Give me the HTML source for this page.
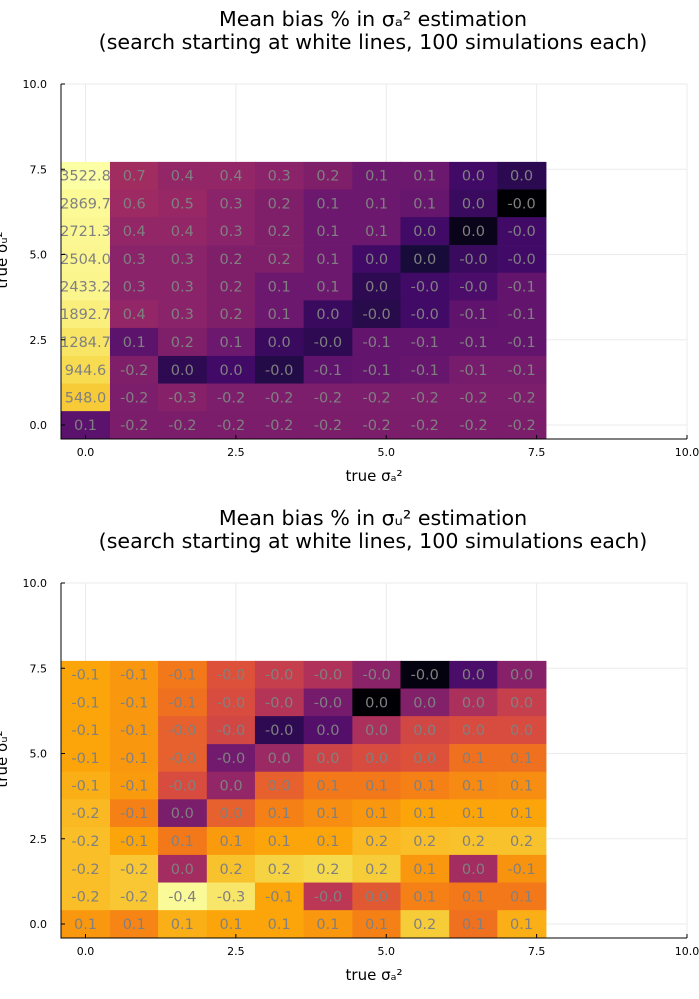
<!DOCTYPE html>
<html><head><meta charset="utf-8"><style>
html,body{margin:0;padding:0;background:#fff;}
svg{display:block;font-family:"DejaVu Sans","Liberation Sans",sans-serif;}
</style></head><body>
<svg id="c" width="699" height="999" viewBox="0 0 699 999" xmlns="http://www.w3.org/2000/svg"></svg>
<script>
// ---- data ----
const xCats = [0, 0.81, 1.61, 2.42, 3.22, 4.03, 4.84, 5.64, 6.45, 7.25];
const yCats = [7.31, 6.5, 5.69, 4.87, 4.06, 3.25, 2.44, 1.62, 0.81, 0];
const xTicks = [0, 2.5, 5, 7.5, 10];
const yTicks = [0, 2.5, 5, 7.5, 10];
const tickLabels = ["0.0", "2.5", "5.0", "7.5", "10.0"];
// rows listed top (largest y) to bottom
const biasA = [
 [3522.8, 0.7, 0.4, 0.4, 0.3, 0.2, 0.1, 0.1, 0.02, 0.0096],
 [2869.7, 0.6, 0.5, 0.3, 0.2, 0.1, 0.1, 0.08, 0.015, -0.001],
 [2721.3, 0.4, 0.4, 0.3, 0.2, 0.1, 0.1, 0.02, 0.0018, -0.02],
 [2504.0, 0.3, 0.3, 0.2, 0.2, 0.1, 0.02, 0.0045, -0.015, -0.02],
 [2433.2, 0.3, 0.3, 0.2, 0.1, 0.1, 0.01, -0.02, -0.03, -0.07],
 [1892.7, 0.4, 0.3, 0.2, 0.1, 0.015, -0.008, -0.02, -0.06, -0.07],
 [1284.7, 0.055, 0.2, 0.1, 0.015, -0.01, -0.07, -0.07, -0.07, -0.07],
 [944.6, -0.2, 0.01, 0.02, -0.007, -0.06, -0.07, -0.08, -0.15, -0.15],
 [548.0, -0.18, -0.26, -0.18, -0.18, -0.18, -0.18, -0.18, -0.18, -0.18],
 [0.051, -0.17, -0.17, -0.17, -0.17, -0.17, -0.17, -0.17, -0.17, -0.17]
];
const biasU = [
 [-0.125, -0.104, -0.069, -0.0375, -0.0245, -0.0171, -0.0099, -0.00113, 0.0038, 0.0093],
 [-0.125, -0.104, -0.061, -0.0333, -0.0181, -0.0073, 0.001, 0.0088, 0.0161, 0.0245],
 [-0.125, -0.104, -0.0478, -0.0295, -0.0025, 0.0043, 0.0161, 0.0295, 0.0333, 0.0333],
 [-0.125, -0.104, -0.0478, -0.0069, 0.0126, 0.0277, 0.0333, 0.0375, 0.061, 0.061],
 [-0.141, -0.11, -0.0333, 0.0112, 0.048, 0.069, 0.069, 0.077, 0.087, 0.092],
 [-0.159, -0.077, 0.0078, 0.0478, 0.077, 0.092, 0.104, 0.125, 0.125, 0.125],
 [-0.169, -0.125, 0.069, 0.11, 0.125, 0.125, 0.159, 0.169, 0.179, 0.179],
 [-0.169, -0.19, 0.0142, 0.179, 0.22, 0.24, 0.202, 0.104, 0.0142, -0.098],
 [-0.169, -0.19, -0.39, -0.29, -0.125, -0.0205, 0.0424, 0.077, 0.069, 0.069],
 [0.104, 0.082, 0.141, 0.125, 0.125, 0.104, 0.077, 0.202, 0.061, 0.141]
];
// ---- rendering ----
const NS = "http://www.w3.org/2000/svg";
const svg = document.getElementById("c");
const inferno = ["#000004","#160b39","#420a68","#6a176e","#932667","#bc3754","#dd513a","#f37819","#fca50a","#f6d746","#fcffa4"];
function hex(h){return [1,3,5].map(i=>parseInt(h.substr(i,2),16));}
function cmap(t){t=Math.max(0,Math.min(1,t));const s=t*10,i=Math.min(9,Math.floor(s)),f=s-i;const a=hex(inferno[i]),b=hex(inferno[i+1]);return "rgb("+a.map((v,k)=>Math.round(v+(b[k]-v)*f)).join(",")+")";}
function mk(tag,attrs,parent){const e=document.createElementNS(NS,tag);for(const k in attrs)e.setAttribute(k,attrs[k]);(parent||svg).appendChild(e);return e;}

function panel(off, data, title1, title2, lo, hi, key){
  const g = mk("g",{});
  
  
  const X = v => 85.5 + v*60.15;
  const Y = v => off + 425 - v*34.1;
  const left=61, right=687, top=Y(10), bottom=off+439;
  xTicks.forEach((t,i)=>{const l=mk("line",{x1:X(t),x2:X(t),y1:top,y2:bottom,stroke:"#ebebeb","stroke-width":1},g);
    
    });
  yTicks.forEach((t,i)=>{const l=mk("line",{x1:left,x2:right,y1:Y(t),y2:Y(t),stroke:"#ebebeb","stroke-width":1},g);
    
    });
  const cw = 0.806*60.15, ch = 0.812*34.1;
  data.forEach((row,r)=>row.forEach((v,c)=>{
    const t = (Math.log10(Math.max(Math.abs(v),1e-6)) - lo)/(hi-lo);
    const cx = X(xCats[c]), cy = Y(yCats[r]);
    const rect = mk("rect",{x:cx-cw/2,y:cy-ch/2,width:cw+0.6,height:ch+0.6,fill:cmap(t)},g);
    
    
    const tx = mk("text",{x:cx,y:cy+5,"text-anchor":"middle","font-size":14.5,fill:"#808080"},g);
    tx.textContent = v.toFixed(1);
    
    
  }));
  const ax = mk("path",{d:`M${left} ${top}V${bottom}H${right}`,stroke:"#000",fill:"none","stroke-width":1},g);
  
  
  xTicks.forEach((t,i)=>{
    mk("line",{x1:X(t),x2:X(t),y1:bottom,y2:bottom-4,stroke:"#000"},g);
    const tx = mk("text",{x:X(t),y:bottom+17,"text-anchor":"middle","font-size":11,fill:"#000"},g);
    tx.textContent = tickLabels[i];
    
    
  });
  yTicks.forEach((t,i)=>{
    mk("line",{x1:left,x2:left+4,y1:Y(t),y2:Y(t),stroke:"#000"},g);
    const tx = mk("text",{x:47,y:Y(t)+4,"text-anchor":"end","font-size":11,fill:"#000"},g);
    tx.textContent = tickLabels[i];
    
    
  });
  const xl = mk("text",{x:374,y:off+481,"text-anchor":"middle","font-size":15,fill:"#000"},g);
  xl.textContent = "true σₐ²";
  
  
  const yl = mk("text",{x:0,y:0,"text-anchor":"middle","font-size":15,fill:"#000",transform:`translate(7,${off+260}) rotate(-90)`},g);
  yl.textContent = "true σᵤ²";
  
  
  const t1 = mk("text",{x:373,y:off+26,"text-anchor":"middle","font-size":20.6,fill:"#000"},g);
  t1.textContent = title1;
  
  
  const t2 = mk("text",{x:373,y:off+49,"text-anchor":"middle","font-size":20.6,fill:"#000"},g);
  t2.textContent = title2;
  
  
}
panel(0, biasA, "Mean bias % in σₐ² estimation", "(search starting at white lines, 100 simulations each)", -3, Math.log10(3522.8), "top");
panel(499, biasU, "Mean bias % in σᵤ² estimation", "(search starting at white lines, 100 simulations each)", -3, Math.log10(0.42), "bottom");
</script>
</body></html>
